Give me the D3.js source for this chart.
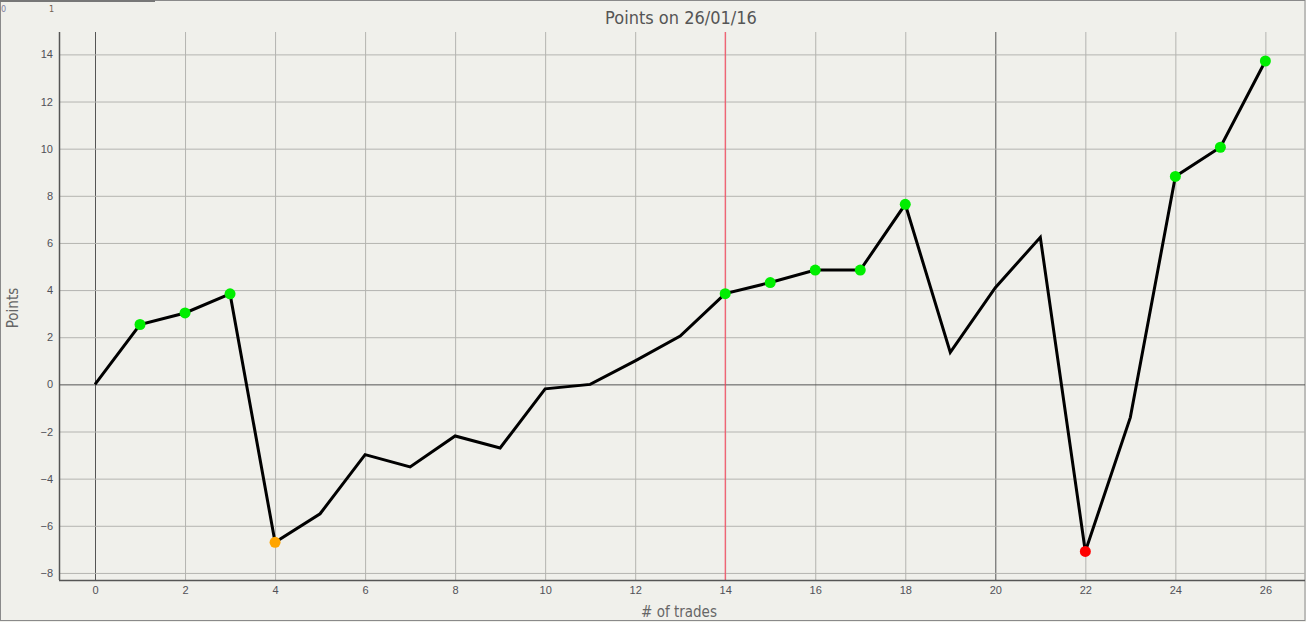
<!DOCTYPE html>
<html>
<head>
<meta charset="utf-8">
<script src="https://cdn.jsdelivr.net/npm/d3@7"></script>
<style>
  body { margin: 0; background: #f0f0eb; }
  svg { display: block; font-family: "DejaVu Sans", sans-serif; font-stretch: condensed; }
  .tick text { fill: #505058; font-size: 11px; }
  .domain { display: none; }
</style>
</head>
<body>
<div id="chart"></div>
<script>
// chart data
var trades = d3.range(0, 27);
var points = [0, 2.54, 3.03, 3.84, -6.7, -5.49, -2.98, -3.5, -2.19, -2.7, -0.19, 0.0, 1.0, 2.05,
  3.85, 4.32, 4.85, 4.85, 7.64, 1.36, 4.1, 6.24, -7.09, -1.4, 8.82, 10.06, 13.72];
// marker colour per trade (null = no marker)
var markers = [null, "#00ee00", "#00ee00", "#00ee00", "#ffa500", null, null, null, null, null, null, null, null, null,
  "#00ee00", "#00ee00", "#00ee00", "#00ee00", "#00ee00", null, null, null, "#ff0000", null, "#00ee00", "#00ee00", "#00ee00"];
var xTicks = d3.range(0, 27, 2);
var yTicks = d3.range(-8, 15, 2);
var markerTrade = 14;
var chartTitle = "Points on 26/01/16";

var svgWidth = 1306;
var svgHeight = 622;

var margin = { top: 32, right: 1, bottom: 42, left: 59 };
var width = svgWidth - margin.left - margin.right;
var height = svgHeight - margin.top - margin.bottom;

var svg = d3.select("#chart")
  .append("svg")
  .attr("width", svgWidth)
  .attr("height", svgHeight);

svg.append("rect")
  .attr("x", 0.5).attr("y", 0.5)
  .attr("width", svgWidth - 1.5).attr("height", svgHeight - 2)
  .attr("fill", "#f0f0eb")
  .attr("stroke", "#8a8a8a");

svg.append("line")
  .attr("x1", 0).attr("x2", 155).attr("y1", 1).attr("y2", 1)
  .attr("stroke", "#777").attr("stroke-width", 2);

// stray labels in the corner
svg.append("text").attr("x", 1).attr("y", 12).attr("font-size", 9).attr("fill", "#8080a0").text("0");
svg.append("text").attr("x", 49).attr("y", 12).attr("font-size", 9).attr("fill", "#706050").text("1");

var chartGroup = svg.append("g")
  .attr("transform", `translate(${margin.left}, ${margin.top})`);

var xScale = d3.scaleLinear().domain([-0.8, 26.88]).range([0, width]);
var yScale = d3.scaleLinear().domain([-8.3, 14.95]).range([height, 0]);

// grid lines
chartGroup.append("g")
  .attr("class", "grid")
  .attr("transform", `translate(0, ${height})`)
  .call(d3.axisBottom(xScale).tickValues(xTicks).tickSize(-height).tickFormat(""))
  .selectAll("line")
  .attr("stroke", d => (d % 20 === 0 ? "#555" : "#b4b4b0"));

chartGroup.append("g")
  .attr("class", "grid")
  .call(d3.axisLeft(yScale).tickValues(yTicks).tickSize(-width).tickFormat(""))
  .selectAll("line")
  .attr("stroke", d => (d === 0 ? "#555" : "#b4b4b0"));

// red marker line
chartGroup.append("line")
  .attr("x1", xScale(markerTrade)).attr("x2", xScale(markerTrade))
  .attr("y1", 0).attr("y2", height)
  .attr("stroke", "#ff4058");

// axes
var bottomAxis = d3.axisBottom(xScale).tickValues(xTicks).tickSize(0).tickPadding(6);
var leftAxis = d3.axisLeft(yScale).tickValues(yTicks).tickSize(0).tickPadding(6);

chartGroup.append("g")
  .attr("transform", `translate(0, ${height})`)
  .call(bottomAxis);

chartGroup.append("g")
  .call(leftAxis);

chartGroup.append("line")
  .attr("x1", 0).attr("x2", width).attr("y1", height + 0.5).attr("y2", height + 0.5)
  .attr("stroke", "#555").attr("stroke-width", 1.5);
chartGroup.append("line")
  .attr("x1", 0.5).attr("x2", 0.5).attr("y1", 0).attr("y2", height)
  .attr("stroke", "#555").attr("stroke-width", 1.5);

// line
var line = d3.line()
  .x((d, i) => xScale(trades[i]))
  .y(d => yScale(d));

chartGroup.append("path")
  .datum(points)
  .attr("fill", "none")
  .attr("stroke", "#000")
  .attr("stroke-width", 3)
  .attr("stroke-linejoin", "miter")
  .attr("d", line);

// markers
chartGroup.selectAll("circle")
  .data(trades.filter(t => markers[t]))
  .enter()
  .append("circle")
  .attr("cx", t => xScale(t))
  .attr("cy", t => yScale(points[t]))
  .attr("r", 5.5)
  .attr("fill", t => markers[t]);

// titles
svg.append("text")
  .attr("x", 681).attr("y", 24)
  .attr("text-anchor", "middle")
  .attr("font-size", 18)
  .attr("fill", "#555")
  .text(chartTitle);

svg.append("text")
  .attr("transform", "translate(18, 308) rotate(-90)")
  .attr("text-anchor", "middle")
  .attr("font-size", 15)
  .attr("fill", "#666")
  .text("Points");

svg.append("text")
  .attr("x", 679).attr("y", 617)
  .attr("text-anchor", "middle")
  .attr("font-size", 15)
  .attr("fill", "#666")
  .text("# of trades");
</script>
</body>
</html>
